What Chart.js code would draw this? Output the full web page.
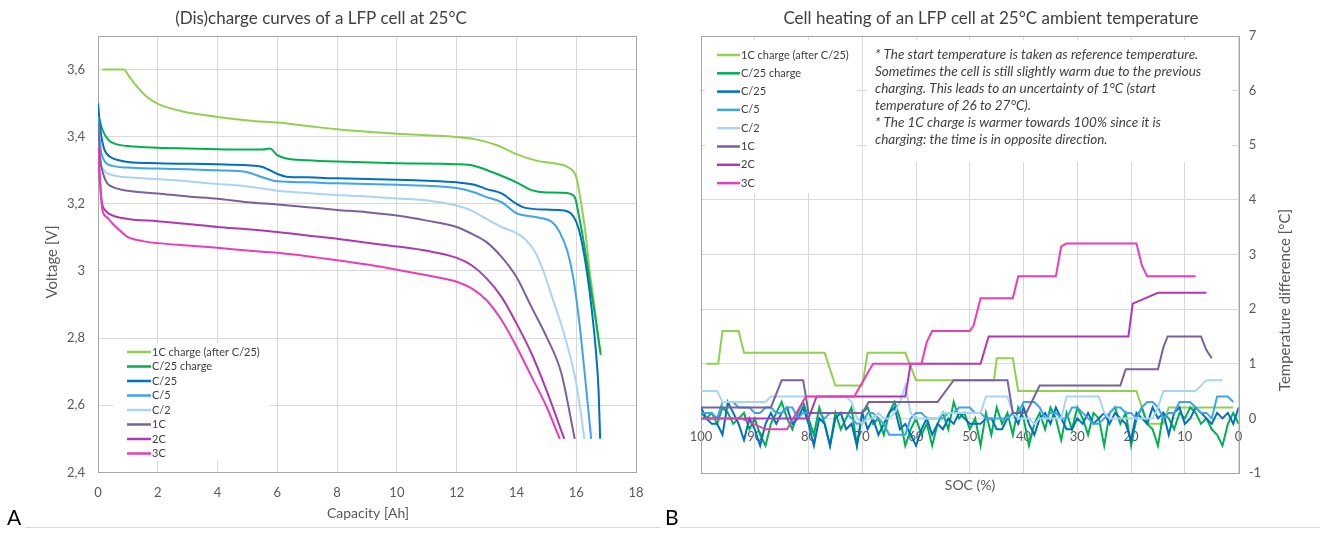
<!DOCTYPE html>
<html lang="en">
<head>
  <meta charset="UTF-8">
  <title>LFP cell: (dis)charge curves and cell heating</title>
  <script src="https://cdn.jsdelivr.net/npm/chart.js@4"></script>
  <style>
    body { margin: 0; background: #fff; font-family: Lato, 'Open Sans', sans-serif; }
    .page { position: relative; width: 1320px; height: 534px; overflow: hidden; }
    #chart-a { position: absolute; left: 0; top: 0; }
    #chart-b { position: absolute; left: 660px; top: 0; }
    .tag { position: absolute; top: 506px; font-size: 21px; line-height: 21px; color: #000; }
    .rule { position: absolute; top: 527px; height: 1px; background: #d9d9d9; }
  </style>
</head>
<body>
<div class="page">
  <canvas id="chart-a" width="660" height="534"></canvas>
  <canvas id="chart-b" width="660" height="534"></canvas>
  <div class="tag" style="left:7px">A</div>
  <div class="rule" style="left:25px; width:635px"></div>
  <div class="tag" style="left:665px">B</div>
  <div class="rule" style="left:680px; width:640px"></div>
</div>

<script>
// series shared by both panels
const seriesNames = ['1C charge (after C/25)', 'C/25 charge', 'C/25', 'C/5', 'C/2', '1C', '2C', '3C'];
const seriesColors = ['#92D050', '#00B050', '#0070C0', '#3FA3EE', '#A9D4F3', '#7B609E', '#B038B0', '#EC3DB6'];

// panel A: voltage [V] vs capacity [Ah]
const capCharge1C  = [0.15, 0.87, 1.0, 1.25, 1.6, 2.0, 2.8, 4.0, 5.2, 6.0, 7.0, 8.0, 9.0, 10.0, 11.0, 12.0, 12.65, 13.4, 14.0, 14.7, 15.3, 15.75, 16.0, 16.15, 16.3, 16.45, 16.6, 16.7, 16.8];
const voltCharge1C = [3.6, 3.6, 3.585, 3.555, 3.521, 3.498, 3.476, 3.459, 3.447, 3.442, 3.432, 3.422, 3.415, 3.409, 3.404, 3.399, 3.392, 3.373, 3.348, 3.328, 3.32, 3.308, 3.28, 3.21, 3.12, 3.0, 2.9, 2.82, 2.76];
const capChargeC25  = [0.02, 0.15, 0.35, 0.6, 1.0, 2.0, 3.0, 4.0, 5.0, 5.5, 5.75, 6.0, 6.3, 7.0, 8.0, 10.0, 12.0, 12.6, 13.2, 14.0, 14.5, 15.0, 15.7, 15.95, 16.1, 16.3, 16.5, 16.68, 16.82];
const voltChargeC25 = [3.46, 3.42, 3.39, 3.378, 3.372, 3.367, 3.365, 3.363, 3.362, 3.362, 3.365, 3.345, 3.335, 3.33, 3.326, 3.321, 3.318, 3.313, 3.294, 3.264, 3.241, 3.234, 3.232, 3.22, 3.16, 3.06, 2.94, 2.84, 2.75];
const capC25  = [0, 0.08, 0.2, 0.4, 0.7, 1.0, 2.0, 4.0, 5.0, 5.5, 6.0, 6.3, 7.0, 8.0, 10.0, 11.0, 12.0, 12.6, 13.0, 13.5, 14.0, 14.3, 15.0, 15.6, 15.9, 16.1, 16.3, 16.5, 16.65, 16.75, 16.8];
const voltC25 = [3.5, 3.42, 3.365, 3.34, 3.33, 3.325, 3.321, 3.318, 3.315, 3.31, 3.289, 3.281, 3.279, 3.276, 3.272, 3.269, 3.264, 3.257, 3.244, 3.231, 3.2, 3.188, 3.183, 3.18, 3.163, 3.12, 3.03, 2.9, 2.77, 2.64, 2.5];
const capC5  = [0, 0.08, 0.2, 0.5, 1.0, 2.0, 3.0, 4.0, 5.0, 5.5, 6.0, 7.0, 8.0, 10.0, 11.0, 12.0, 12.6, 13.0, 13.5, 14.0, 14.3, 14.8, 15.2, 15.45, 15.7, 15.9, 16.1, 16.3, 16.5];
const voltC5 = [3.46, 3.37, 3.33, 3.313, 3.308, 3.305, 3.303, 3.3, 3.294, 3.279, 3.267, 3.264, 3.261, 3.257, 3.254, 3.247, 3.234, 3.22, 3.205, 3.172, 3.165, 3.158, 3.145, 3.115, 3.06, 2.98, 2.85, 2.68, 2.5];
const capC2  = [0, 0.08, 0.2, 0.5, 1.0, 2.0, 3.0, 4.0, 5.0, 6.0, 7.0, 8.0, 9.0, 10.0, 11.0, 12.0, 12.5, 13.0, 13.5, 14.0, 14.3, 14.6, 14.9, 15.2, 15.5, 15.8, 16.0, 16.15, 16.27];
const voltC2 = [3.43, 3.33, 3.3, 3.285, 3.279, 3.274, 3.267, 3.259, 3.252, 3.239, 3.232, 3.226, 3.222, 3.216, 3.21, 3.195, 3.18, 3.155, 3.131, 3.113, 3.094, 3.06, 3.0, 2.92, 2.84, 2.745, 2.665, 2.58, 2.5];
const cap1C  = [0, 0.08, 0.17, 0.3, 0.5, 1.0, 2.0, 3.0, 4.0, 5.0, 6.0, 7.0, 8.0, 9.0, 10.0, 11.0, 12.0, 12.5, 13.0, 13.5, 14.0, 14.5, 15.0, 15.5, 15.95];
const volt1C = [3.44, 3.33, 3.29, 3.262, 3.25, 3.239, 3.231, 3.222, 3.215, 3.205, 3.198, 3.19, 3.182, 3.175, 3.165, 3.15, 3.131, 3.111, 3.086, 3.042, 2.982, 2.893, 2.805, 2.696, 2.5];
const cap2C  = [0, 0.06, 0.12, 0.25, 0.5, 1.0, 2.0, 3.0, 4.0, 5.0, 6.0, 7.0, 8.0, 9.0, 10.0, 11.0, 12.0, 12.5, 13.0, 13.5, 14.0, 14.5, 15.0, 15.6];
const volt2C = [3.37, 3.28, 3.21, 3.18, 3.165, 3.155, 3.148, 3.14, 3.131, 3.124, 3.116, 3.106, 3.096, 3.084, 3.073, 3.06, 3.039, 3.017, 2.978, 2.923, 2.844, 2.755, 2.646, 2.5];
const cap3C  = [0, 0.06, 0.15, 0.3, 0.5, 0.8, 1.0, 1.5, 2.0, 3.0, 4.0, 5.0, 6.0, 7.0, 8.0, 9.0, 10.0, 11.0, 12.0, 12.5, 13.0, 13.5, 14.0, 14.5, 15.0, 15.45];
const volt3C = [3.37, 3.27, 3.18, 3.16, 3.14, 3.115, 3.101, 3.089, 3.083, 3.076, 3.069, 3.061, 3.054, 3.044, 3.032, 3.019, 3.004, 2.987, 2.968, 2.948, 2.913, 2.854, 2.775, 2.686, 2.597, 2.5];

const capTicks  = [0, 2, 4, 6, 8, 10, 12, 14, 16, 18];
const voltTicks = [2.4, 2.6, 2.8, 3.0, 3.2, 3.4, 3.6];

// panel B: temperature difference [°C] vs SOC [%]
const socGrid = [100, 99, 98, 97, 96, 95, 94, 93, 92, 91, 90, 89, 88, 87, 86, 85, 84, 83, 82, 81,
  80, 79, 78, 77, 76, 75, 74, 73, 72, 71, 70, 69, 68, 67, 66, 65, 64, 63, 62, 61,
  60, 59, 58, 57, 56, 55, 54, 53, 52, 51, 50, 49, 48, 47, 46, 45, 44, 43, 42, 41,
  40, 39, 38, 37, 36, 35, 34, 33, 32, 31, 30, 29, 28, 27, 26, 25, 24, 23, 22, 21,
  20, 19, 18, 17, 16, 15, 14, 13, 12, 11, 10, 9, 8, 7, 6, 5, 4, 3, 2, 1, 0];
const heatChargeC25 = [
  0.1, 0.0, 0.1, -0.1, 0.2, 0.1, -0.1, 0.0, 0.1, -0.2,
  0.0, -0.3, -0.5, -0.1, 0.1, 0.3, 0.0, -0.2, 0.1, 0.3,
  0.0, -0.3, 0.2, -0.1, -0.5, 0.1, -0.2, 0.0, 0.2, -0.5,
  0.1, 0.2, -0.1, 0.0, -0.3, 0.1, 0.3, 0.0, -0.5, -0.2,
  0.0, -0.3, -0.1, -0.5, -0.1, 0.1, -0.2, 0.3, 0.0, 0.1,
  -0.2, 0.0, -0.5, 0.1, -0.3, 0.2, -0.1, 0.1, -0.3, 0.2,
  0.0, -0.5, -0.1, 0.1, -0.2, 0.2, 0.0, -0.4, 0.1, -0.2,
  0.2, 0.0, -0.3, 0.1, 0.0, -0.5, 0.1, 0.2, -0.1, 0.1,
  -0.5, 0.0, 0.2, -0.1, -0.2, -0.5, 0.1, 0.0, -0.2, 0.1,
  0.0, 0.2, 0.1, -0.1, 0.0, -0.2, -0.3, -0.5, -0.1, 0.1, -0.1];
const heatC25 = [
  0.2, 0.0, -0.1, -0.1, -0.3, 0.3, 0.1, -0.1, -0.4, 0.0,
  -0.2, -0.5, -0.1, 0.1, -0.1, 0.1, 0.2, -0.1, 0.0, 0.2,
  -0.1, -0.5, 0.0, -0.1, -0.5, 0.0, 0.1, -0.2, -0.1, -0.5,
  0.1, -0.2, 0.0, -0.3, -0.1, 0.1, 0.2, -0.2, -0.1, -0.3,
  -0.5, -0.2, 0.0, -0.3, -0.1, -0.2, 0.0, -0.1, 0.1, 0.0,
  -0.1, -0.1, -0.1, 0.0, 0.0, -0.2, -0.2, 0.0, 0.1, -0.1,
  0.2, -0.1, -0.3, 0.0, 0.1, -0.1, 0.2, 0.0, -0.2, -0.2,
  0.0, -0.1, 0.1, -0.1, 0.0, 0.1, -0.1, 0.1, 0.0, -0.1,
  -0.4, 0.1, 0.0, -0.1, 0.2, 0.0, 0.1, -0.3, 0.1, 0.2,
  -0.1, 0.0, 0.2, 0.1, 0.0, -0.1, 0.1, 0.0, 0.1, -0.1, 0.2];
const heatC5 = [
  0.1, 0.1, 0.1, 0.0, 0.3, 0.3, 0.3, 0.2, 0.2, 0.2,
  0.1, 0.1, 0.2, 0.2, 0.1, 0.1, 0.2, 0.2, 0.0, 0.1,
  0.1, 0.1, 0.1, 0.0, 0.1, 0.1, 0.1, 0.1, 0.0, -0.1,
  -0.1, 0.1, 0.1, 0.0, -0.1, -0.3, -0.3, -0.3, -0.3, 0.0,
  0.1, 0.1, 0.0, 0.0, 0.0, 0.0, 0.1, 0.1, 0.2, 0.2,
  0.2, 0.1, 0.1, 0.0, 0.0, 0.0, 0.0, 0.0, 0.1, 0.1,
  0.3, 0.3, 0.3, 0.2, 0.0, 0.1, 0.1, 0.0, 0.0, 0.2,
  0.2, 0.1, 0.0, -0.1, -0.1, 0.0, 0.1, 0.2, 0.2, 0.1,
  0.1, 0.0, 0.2, 0.3, 0.3, 0.2, 0.0, 0.1, 0.1, 0.3,
  0.3, 0.3, 0.2, 0.1, 0.1, 0.0, 0.4, 0.4, 0.4, 0.3, null];
const heatC2 = [
  0.5, 0.5, 0.5, 0.5, 0.3, 0.3, 0.3, 0.3, 0.3, 0.3,
  0.3, 0.3, 0.3, 0.4, 0.4, 0.4, 0.4, 0.4, 0.4, 0.4,
  0.4, 0.4, 0.4, 0.4, 0.4, 0.4, 0.4, 0.4, 0.3, 0.0,
  -0.1, 0.0, 0.0, 0.1, 0.0, 0.0, 0.1, 0.3, 0.6, 0.1,
  0.0, 0.0, 0.0, 0.0, 0.0, 0.1, 0.1, 0.1, 0.1, 0.1,
  0.1, 0.1, 0.1, 0.4, 0.4, 0.4, 0.4, 0.4, 0.1, 0.0,
  0.0, 0.0, -0.1, 0.0, 0.0, 0.0, 0.0, 0.0, 0.4, 0.4,
  0.4, 0.4, 0.4, 0.4, 0.4, 0.1, 0.0, 0.0, 0.0, 0.0,
  0.0, 0.0, 0.0, 0.0, 0.0, 0.2, 0.5, 0.5, 0.5, 0.5,
  0.5, 0.5, 0.5, 0.6, 0.7, 0.7, 0.7, 0.7, null, null, null];
const socCharge1C  = [99, 96.8, 96, 93, 92, 77, 75, 70, 69, 62, 60, 45.5, 45, 42, 41, 19, 17, 14, 13, 1];
const heatCharge1C = [1.0, 1.0, 1.6, 1.6, 1.2, 1.2, 0.6, 0.6, 1.2, 1.2, 0.7, 0.7, 1.1, 1.1, 0.5, 0.5, -0.1, -0.1, 0.2, 0.2];
const soc1C  = [100, 87, 85, 81, 80, 70, 68.8, 56, 53, 43, 42, 39.5, 37, 22, 21, 15, 14, 13.2, 7, 6, 5];
const heat1C = [0.2, 0.2, 0.7, 0.7, 0.1, 0.1, 0.3, 0.3, 0.7, 0.7, 0.1, 0.1, 0.6, 0.6, 0.9, 0.9, 1.3, 1.5, 1.5, 1.25, 1.1];
const soc2C  = [100, 80, 78.5, 62, 61, 48, 46.5, 20.5, 19.7, 18.5, 15, 6];
const heat2C = [0.0, 0.0, 0.4, 0.4, 1.0, 1.0, 1.5, 1.5, 2.1, 2.15, 2.3, 2.3];
const soc3C  = [100, 92.5, 88, 84, 80.5, 71.5, 68, 59, 58, 57, 50, 49.3, 48, 42, 41, 34, 33, 32, 19, 18, 17, 8];
const heat3C = [0.0, 0.0, -0.2, -0.2, 0.4, 0.4, 1.0, 1.0, 1.4, 1.6, 1.6, 1.7, 2.2, 2.2, 2.6, 2.6, 3.15, 3.2, 3.2, 2.8, 2.6, 2.6];

const socTicks  = [100, 90, 80, 70, 60, 50, 40, 30, 20, 10, 0];
const tempTicks = [-1, 0, 1, 2, 3, 4, 5, 6, 7];

const noteLines = [
  '* The start temperature is taken as reference temperature.',
  'Sometimes the cell is still slightly warm due to the previous',
  'charging. This leads to an uncertainty of 1°C (start',
  'temperature of 26 to 27°C).',
  '* The 1C charge is warmer towards 100% since it is',
  'charging: the time is in opposite direction.'
];

Chart.defaults.font.family = "Lato, 'Open Sans', sans-serif";
Chart.defaults.color = '#595959';

const pts = (xs, ys) => xs.map((x, i) => ({ x: x, y: ys[i] }));
const comma = v => String(+v.toFixed(1)).replace('.', ',');
const fixTicks = list => scale => { scale.ticks = list.map(v => ({ value: v })); };

// white boxes over the grid, then the plot frame
const frame = {
  id: 'frame',
  beforeDatasetsDraw(chart, args, o) {
    const { ctx, chartArea: a } = chart;
    ctx.save();
    ctx.fillStyle = '#fff';
    (o.blank || []).forEach(r => ctx.fillRect(r[0], r[1], r[2], r[3]));
    ctx.strokeStyle = '#A6A6A6';
    ctx.lineWidth = 1;
    ctx.strokeRect(Math.round(a.left) + 0.5, Math.round(a.top) + 0.5,
      Math.round(a.right - a.left), Math.round(a.bottom - a.top));
    ctx.restore();
  }
};

// legend rows, note lines and all titles
const extras = {
  id: 'extras',
  afterDatasetsDraw(chart, args, o) {
    const ctx = chart.ctx;
    ctx.save();
    ctx.textBaseline = 'middle';
    const lg = o.legend;
    ctx.font = lg.font;
    chart.data.datasets.forEach((ds, i) => {
      const y = lg.top + i * lg.rowH;
      ctx.strokeStyle = ds.borderColor;
      ctx.lineWidth = 2.5;
      ctx.beginPath();
      ctx.moveTo(lg.x1, y);
      ctx.lineTo(lg.x2, y);
      ctx.stroke();
      ctx.fillStyle = '#404040';
      ctx.textAlign = 'left';
      ctx.fillText(ds.label, lg.x2 + 1, y);
    });
    (o.texts || []).forEach(t => {
      ctx.save();
      ctx.font = t.font;
      ctx.fillStyle = t.color || '#404040';
      ctx.textAlign = t.align || 'center';
      ctx.translate(t.x, t.y);
      if (t.rotate) ctx.rotate(-Math.PI / 2);
      ctx.fillText(t.text, 0, 0);
      ctx.restore();
    });
    ctx.restore();
  }
};

const gridStyle = { color: '#D9D9D9', drawTicks: false };
const tickFont = { size: 13 };

// ---- panel A
const capData  = [capCharge1C, capChargeC25, capC25, capC5, capC2, cap1C, cap2C, cap3C];
const voltData = [voltCharge1C, voltChargeC25, voltC25, voltC5, voltC2, volt1C, volt2C, volt3C];

new Chart(document.getElementById('chart-a'), {
  type: 'line',
  data: {
    datasets: seriesNames.map((name, i) => ({
      label: name,
      data: pts(capData[i], voltData[i]),
      borderColor: seriesColors[i],
      backgroundColor: seriesColors[i],
      order: seriesNames.length - i
    }))
  },
  options: {
    responsive: false,
    animation: false,
    layout: { padding: { top: 36, left: 54, right: 24, bottom: 20 } },
    elements: {
      point: { radius: 0 },
      line: { borderWidth: 2, cubicInterpolationMode: 'monotone' }
    },
    plugins: {
      legend: { display: false },
      tooltip: { enabled: false },
      frame: { blank: [[113, 343, 157, 118]] },
      extras: {
        legend: { font: '11px Lato', x1: 127, x2: 151, top: 352, rowH: 14.5 },
        texts: [
          { text: '(Dis)charge curves of a LFP cell at 25°C', x: 321, y: 19, font: '17px Lato' },
          { text: 'Voltage [V]', x: 52, y: 262, font: '15px Lato', color: '#595959', rotate: true },
          { text: 'Capacity [Ah]', x: 368, y: 513, font: '14px Lato', color: '#595959' }
        ]
      }
    },
    scales: {
      x: {
        type: 'linear', min: 0, max: 18,
        afterBuildTicks: fixTicks(capTicks),
        grid: gridStyle,
        border: { display: false },
        ticks: { padding: 13, font: tickFont }
      },
      y: {
        min: 2.4, max: 3.7,
        afterBuildTicks: fixTicks(voltTicks),
        grid: gridStyle,
        border: { display: false },
        ticks: { padding: 13, font: tickFont, callback: v => comma(v) }
      }
    }
  },
  plugins: [frame, extras]
});

// ---- panel B
const heatSets = [
  pts(socCharge1C, heatCharge1C),
  pts(socGrid, heatChargeC25),
  pts(socGrid, heatC25),
  pts(socGrid, heatC5),
  pts(socGrid, heatC2),
  pts(soc1C, heat1C),
  pts(soc2C, heat2C),
  pts(soc3C, heat3C)
];

new Chart(document.getElementById('chart-b'), {
  type: 'line',
  data: {
    datasets: seriesNames.map((name, i) => ({
      label: name,
      data: heatSets[i],
      borderColor: seriesColors[i],
      backgroundColor: seriesColors[i],
      order: seriesNames.length - i
    }))
  },
  options: {
    responsive: false,
    animation: false,
    layout: { padding: { top: 36, left: 41, right: 49, bottom: 61 } },
    elements: {
      point: { radius: 0 },
      line: { borderWidth: 2, tension: 0 }
    },
    plugins: {
      legend: { display: false },
      tooltip: { enabled: false },
      frame: { blank: [[45, 40, 152, 153], [207, 40, 365, 122]] },
      extras: {
        legend: { font: '11px Lato', x1: 57, x2: 80, top: 55, rowH: 18.3 },
        texts: [
          { text: 'Cell heating of an LFP cell at 25°C ambient temperature', x: 331, y: 19, font: '17px Lato' },
          { text: 'SOC (%)', x: 310, y: 485, font: '14px Lato', color: '#595959' },
          { text: 'Temperature difference [°C]', x: 625, y: 300, font: '15px Lato', color: '#595959', rotate: true }
        ].concat(noteLines.map((t, i) => ({
          text: t, x: 215, y: 55 + i * 17, font: 'italic 13.5px Lato', align: 'left'
        })))
      }
    },
    scales: {
      x: {
        type: 'linear', min: 0, max: 100, reverse: true,
        position: { y: 0 },
        afterBuildTicks: fixTicks(socTicks),
        grid: gridStyle,
        border: { display: false },
        ticks: { padding: 11, font: tickFont }
      },
      y: {
        position: 'right', min: -1, max: 7,
        afterBuildTicks: fixTicks(tempTicks),
        grid: gridStyle,
        border: { display: false },
        ticks: { padding: 10, font: tickFont }
      }
    }
  },
  plugins: [frame, extras]
});
</script>
</body>
</html>
